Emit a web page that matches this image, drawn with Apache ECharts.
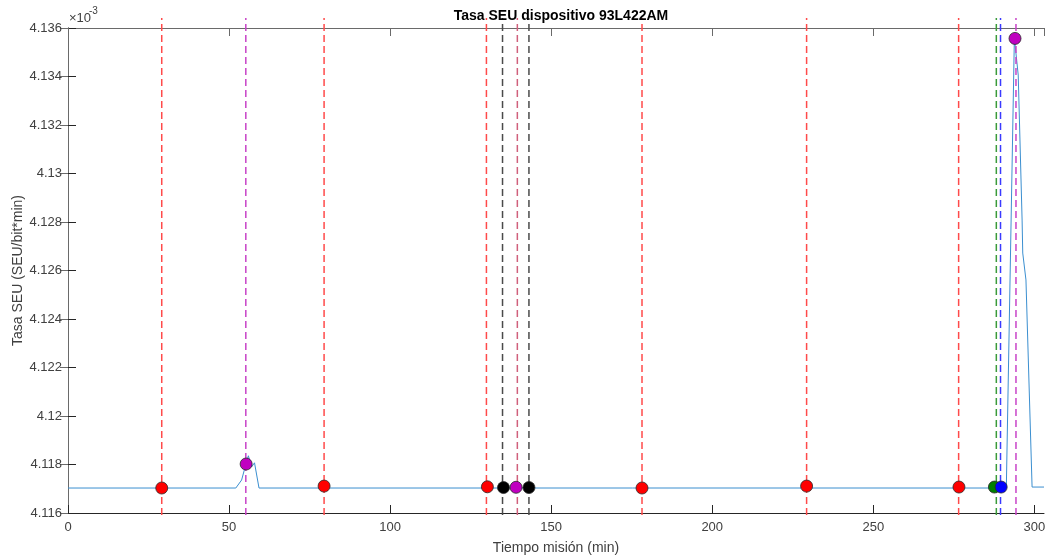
<!DOCTYPE html>
<html>
<head>
<meta charset="utf-8">
<script src="https://cdn.jsdelivr.net/npm/echarts@6/dist/echarts.min.js"></script>
<style>html,body{margin:0;padding:0;background:#fff}#c{width:1045px;height:556px}</style>
</head>
<body>
<div id="c"></div>
<script>
// Curve (values in units of 1e-3 SEU/bit*min)
var curveX = [0, 52.1, 53.9, 55.2, 56.0, 57.0, 57.9, 59.3, 291.3, 293.8, 295.0, 296.2, 296.4, 297.4, 299.3, 303];
var curveY = [4.11703, 4.11703, 4.11736, 4.1180, 4.11836, 4.1179, 4.11807, 4.11703, 4.11703, 4.13559, 4.13406, 4.12808, 4.12672, 4.12561, 4.11707, 4.11707];

// Event markers
var markerX = [29.1, 55.3, 79.5, 130.2, 135.2, 139.1, 143.1, 178.2, 229.3, 276.6, 287.6, 289.7, 294.0];
var markerY = [4.11703, 4.11802, 4.11711, 4.11708, 4.11705, 4.11706, 4.11705, 4.11703, 4.11711, 4.11707, 4.11707, 4.11707, 4.13557];
var markerColor = ['#ff0000', '#c000c0', '#ff0000', '#ff0000', '#000000', '#c000c0', '#000000', '#ff0000', '#ff0000', '#ff0000', '#007f00', '#0000ff', '#c000c0'];

// Vertical dashed event lines
var vlineX = [29.1, 55.2, 79.5, 129.9, 134.9, 139.5, 143.1, 178.2, 229.3, 276.5, 288.2, 289.5, 294.3];
var vlineColor = ['#ff4a4a', '#c844c8', '#ff4a4a', '#ff4a4a', '#4a4a4a', '#d0607c', '#4a4a4a', '#ff4a4a', '#ff4a4a', '#ff4a4a', '#3a9a3a', '#3a3aff', '#c844c8'];
var vlineRange = [4.11592, 4.13641];

var xTicks = [0, 50, 100, 150, 200, 250, 300];
var yMin = 4.116, yMax = 4.136, yStep = 0.002;
var xMin = 0, xMax = 303;

var FONT = 'Liberation Sans, Arial, Helvetica, sans-serif';
var txtColor = '#404040';

var chart = echarts.init(document.getElementById('c'), null, {renderer: 'canvas'});

var series = [];
series.push({
  type: 'line', name: 'curve', data: curveX.map(function (x, i) { return [x, curveY[i]]; }),
  showSymbol: false, symbol: 'none', lineStyle: {color: '#3b8fd0', width: 1}, z: 2, animation: false
});
vlineX.forEach(function (x, i) {
  series.push({
    type: 'line', data: [[x, vlineRange[0]], [x, vlineRange[1]]], clip: false,
    symbol: 'none', lineStyle: {color: vlineColor[i], width: 1.5, type: [7, 4]}, z: 3, animation: false, silent: true
  });
});
series.push({
  type: 'scatter', data: markerX.map(function (x, i) {
    return {value: [x, markerY[i]], itemStyle: {color: markerColor[i]}};
  }),
  symbolSize: 12, itemStyle: {borderColor: '#2a2a2a', borderWidth: 0.8, opacity: 1}, z: 5, animation: false, clip: false
});

function fmtY(v) { return parseFloat(v.toFixed(3)).toString(); }

chart.setOption({
  animation: false,
  backgroundColor: '#ffffff',
  title: {
    text: 'Tasa SEU dispositivo 93L422AM', left: 556, top: 4, textAlign: 'center',
    textStyle: {fontFamily: FONT, fontSize: 14, fontWeight: 'bold', color: '#000'}
  },
  grid: {left: 68, right: 1, top: 28, bottom: 43, containLabel: false, outerBoundsMode: 'none'},
  xAxis: [{
    type: 'value', min: xMin, max: xMax, interval: 50, position: 'bottom',
    name: 'Tiempo misión (min)', nameLocation: 'middle', nameGap: 28, nameMoveOverlap: false,
    nameTextStyle: {fontFamily: FONT, fontSize: 14, color: txtColor},
    axisLine: {lineStyle: {color: '#262626', width: 1}},
    axisTick: {inside: true, length: 8, lineStyle: {color: '#262626'}},
    axisLabel: {fontFamily: FONT, fontSize: 13, color: txtColor, margin: 8, showMaxLabel: false,
      formatter: function (v) { return xTicks.indexOf(Math.round(v)) >= 0 && Math.abs(v - Math.round(v)) < 1e-6 ? String(Math.round(v)) : ''; }},
    splitLine: {show: false}
  }, {
    type: 'value', min: xMin, max: xMax, interval: 50, position: 'top',
    axisLine: {show: true, lineStyle: {color: '#6a6a6a', width: 1}},
    axisTick: {inside: true, length: 8, lineStyle: {color: '#6a6a6a'}},
    axisLabel: {show: false}, splitLine: {show: false}
  }],
  yAxis: [{
    type: 'value', min: yMin, max: yMax, interval: yStep, position: 'left',
    name: 'Tasa SEU (SEU/bit*min)', nameLocation: 'middle', nameGap: 43, nameRotate: 90, nameMoveOverlap: false,
    nameTextStyle: {fontFamily: FONT, fontSize: 14, color: txtColor},
    axisLine: {show: true, lineStyle: {color: '#262626', width: 1}},
    axisTick: {show: true, inside: true, length: 8, lineStyle: {color: '#262626'}},
    axisLabel: {fontFamily: FONT, fontSize: 13, color: txtColor, margin: 6, formatter: fmtY},
    splitLine: {show: false}
  }, {
    type: 'value', min: yMin, max: yMax, interval: yStep, position: 'right',
    axisLine: {show: true, lineStyle: {color: '#6a6a6a', width: 1}},
    axisTick: {show: true, inside: true, length: 8, lineStyle: {color: '#6a6a6a'}},
    axisLabel: {show: false}, splitLine: {show: false}
  }],
  graphic: [
    {type: 'text', left: 69, top: 12, style: {text: '×10', font: '13px ' + FONT, fill: txtColor}},
    {type: 'text', left: 89, top: 6, style: {text: '-3', font: '10px ' + FONT, fill: txtColor}}
  ],
  series: series
});
</script>
</body>
</html>
